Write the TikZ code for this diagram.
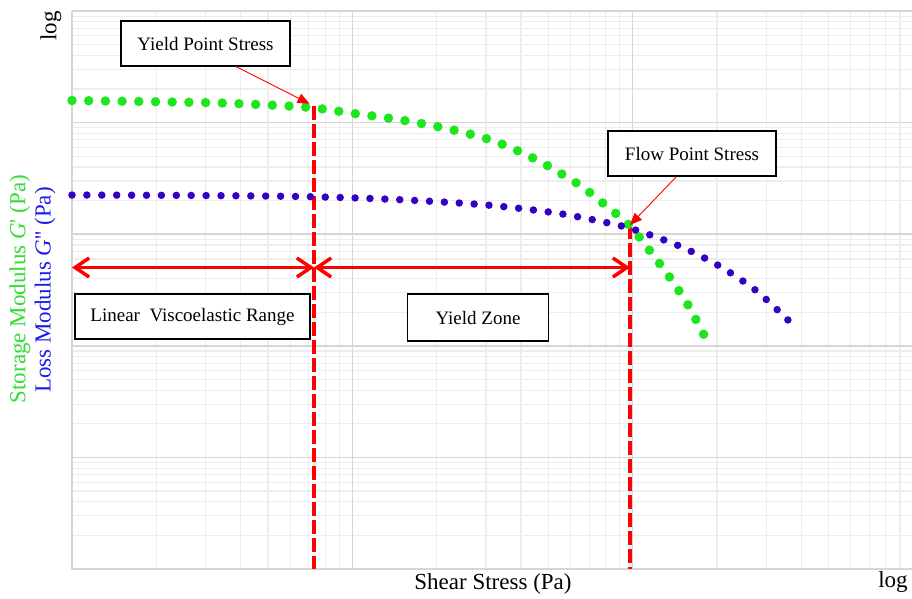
\documentclass[tikz,border=0pt]{standalone}
\usepackage{fontspec}
\setmainfont{Liberation Serif}
\usepackage{xcolor}
\usepackage{tikz}
\usetikzlibrary{arrows.meta}

\definecolor{gridmajor}{HTML}{D6D6D6}
\definecolor{gridminor}{HTML}{EDEDED}
\definecolor{storage}{HTML}{1EE61E}
\definecolor{loss}{HTML}{3300C4}
\definecolor{storagetext}{HTML}{33DD33}
\definecolor{losstext}{HTML}{1C1CE8}

\begin{document}
\begin{tikzpicture}[x=1pt, y=-1pt,
    minorline/.style={draw=gridminor, line width=1.2pt},
    majorline/.style={draw=gridmajor, line width=1.6pt},
    gdots/.style={draw=storage, line width=9.5pt, line cap=round, dash pattern=on 0pt off 16.7pt},
    bdots/.style={draw=loss, line width=7.5pt, line cap=round, dash pattern=on 0pt off 14.9pt},
    stressline/.style={draw=red, line width=4pt, dash pattern=on 14pt off 4pt},
    spanarrow/.style={draw=red, line width=3.5pt, {Straight Barb[length=14pt,width=19pt]}-{Straight Barb[length=14pt,width=19pt]}},
    pointer/.style={draw=red, line width=0.9pt, -{Triangle[length=12pt,width=10pt]}},
    tagbox/.style={draw=black, line width=1.4pt, fill=white, minimum height=45pt, inner xsep=0pt, font=\fontsize{19}{22}\selectfont},
    axisname/.style={font=\fontsize{23}{26}\selectfont}]
    \useasboundingbox (0,0) rectangle (912,598);

    % Log grid: 3 decades across, 5 decades up
    \foreach \d in {0,1,2}
        \foreach \k in {2,...,9}
            \draw[minorline] ({72+280.3*(\d+ln(\k)/ln(10))},11) -- ++(0,558);
    \foreach \d in {0,...,4}
        \foreach \k in {2,...,9}
            \draw[minorline] (72,{569-111.6*(\d+ln(\k)/ln(10))}) -- ++(840,0);
    \foreach \d in {1,2}
        \draw[majorline] ({72+280.3*\d},11) -- ++(0,558);
    \foreach \d in {1,...,5}
        \draw[majorline] (72,{569-111.6*\d}) -- ++(840,0);
    \draw[draw=gridmajor, line width=2pt] (72,11) -- (72,569) -- (912,569);

    % Axis titles
    \node[axisname, rotate=90] (ylog) at (51,26) {log};
    \node[axisname] (xlog) at (893,582) {log};
    \node[axisname] (xname) at (493,584) {Shear Stress (Pa)};
    \node[axisname, rotate=90, text=storagetext] (gname) at (20,289) {Storage Modulus \textit{G}\textquotesingle\ (Pa)};
    \node[axisname, rotate=90, text=losstext] (lname) at (45,290) {Loss Modulus \textit{G}\textquotesingle\textquotesingle\ (Pa)};

    % Yield and flow points
    \coordinate (yp) at (314,106);
    \coordinate (fp) at (630,225);
    \coordinate (rangeL) at (72,267.5);
    \draw[stressline] (yp) -- (yp |- 0,569);
    \draw[stressline] (fp) -- (fp |- 0,569);
    \draw[spanarrow] (rangeL) -- (yp |- rangeL);
    \draw[spanarrow] (yp |- rangeL) -- (fp |- rangeL);

    % Storage modulus G'
    \draw[gdots] plot[smooth] coordinates {(72,100.5) (140,101.5) (220,103) (304,107) (352.7,113.3)
        (401,120) (447.7,128.7) (493.7,141) (537,160) (578,184) (604,204) (629,225)
        (650,251) (670,277.7) (688,305) (705,337)};

    % Loss modulus G''
    \draw[bdots] plot[smooth] coordinates {(72,195) (200,195.5) (310,196.7) (400,199.7) (486.7,205)
        (558,213.3) (613,224) (640.7,231.7) (681,246.7) (719.3,266) (755.7,290.3) (789,321)};

    % Labels
    \node[tagbox, minimum width=169pt] (ypbox) at (205.5,43.5) {Yield Point Stress};
    \node[tagbox, minimum width=168pt] (fpbox) at (692,153.5) {Flow Point Stress};
    \node[tagbox, minimum width=235pt] (lvrbox) at (192.5,316.5) {Linear\ \ Viscoelastic Range};
    \node[tagbox, minimum width=141pt, minimum height=47pt] (zonebox) at (478,317.5) {Yield Zone};

    \draw[pointer, shorten >=5pt] (ypbox.-37) -- (yp);
    \draw[pointer] (fpbox.-124) -- (fp);
\end{tikzpicture}
\end{document}
